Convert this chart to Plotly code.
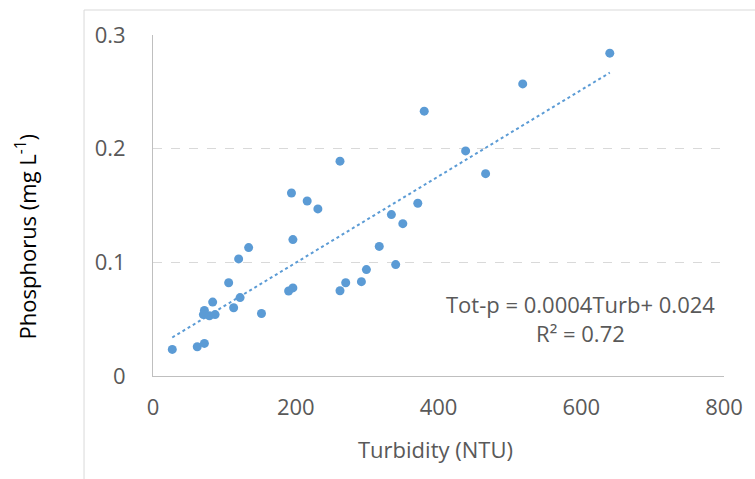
import numpy as np
import plotly.graph_objects as go

turbidity = [27, 62, 72, 72, 70.6, 79, 87, 83.6, 106, 113, 122, 120, 134, 152,
             194, 216, 231, 196, 190, 196, 262, 262, 334, 350, 371, 317, 340,
             299, 292, 270, 640, 518, 380, 438, 466]
phosphorus = [0.0234, 0.0257, 0.0287, 0.0577, 0.054, 0.053, 0.054, 0.065, 0.082,
              0.060, 0.069, 0.103, 0.113, 0.055, 0.161, 0.154, 0.147, 0.120,
              0.0748, 0.0775, 0.189, 0.075, 0.142, 0.134, 0.152, 0.114, 0.098,
              0.0936, 0.083, 0.082, 0.284, 0.257, 0.233, 0.198, 0.178]
x_ticks = [0, 200, 400, 600, 800]
y_ticks = [0, 0.1, 0.2, 0.3]
y_tick_labels = ["0", "0.1", "0.2", "0.3"]
equation_text = "Tot-p = 0.0004Turb+ 0.024<br>R² = 0.72"

slope, intercept = np.polyfit(turbidity, phosphorus, 1)
trend_x = [min(turbidity), max(turbidity)]
trend_y = [slope * v + intercept for v in trend_x]

color = "#5b9bd5"
font_color = "#595959"
font_family = "Open Sans"

fig = go.Figure()
fig.add_trace(go.Scatter(x=trend_x, y=trend_y, mode="lines",
                         line=dict(color=color, width=2, dash="dot"),
                         hoverinfo="skip", showlegend=False))
fig.add_trace(go.Scatter(x=turbidity, y=phosphorus, mode="markers",
                         marker=dict(color=color, size=9), showlegend=False))

fig.update_layout(
    width=755, height=479,
    margin=dict(l=152.5, r=27, t=35, b=103),
    paper_bgcolor="white", plot_bgcolor="white",
    font=dict(family=font_family, color=font_color, size=22),
    xaxis=dict(range=[0, 800], tickvals=x_ticks, showgrid=False, zeroline=False,
               showline=True, linecolor="#bfbfbf", linewidth=1,
               ticks="", ticklabelstandoff=12,
               tickfont=dict(size=22, color=font_color)),
    yaxis=dict(range=[0, 0.3], tickvals=y_ticks, ticktext=y_tick_labels,
               showgrid=True, gridcolor="#d9d9d9", griddash="dash", gridwidth=1,
               zeroline=False, showline=True, linecolor="#bfbfbf", linewidth=1,
               ticks="", ticklabelstandoff=22,
               tickfont=dict(size=22, color=font_color)),
    annotations=[
        dict(text="Turbidity (NTU)", xref="paper", yref="paper",
             x=(437 - 152.5) / 575.5, y=(376 - 449) / 341,
             showarrow=False, xanchor="center", yanchor="middle",
             font=dict(size=22, color=font_color)),
        dict(text="Phosphorus (mg L<sup>-1</sup>)", xref="paper", yref="paper",
             x=(25 - 152.5) / 575.5, y=(376 - 236) / 341, textangle=-90,
             showarrow=False, xanchor="center", yanchor="middle",
             font=dict(size=22, color="#000000")),
        dict(text=equation_text, xref="paper", yref="paper",
             x=(583 - 152.5) / 575.5, y=(376 - 318) / 341,
             showarrow=False, xanchor="center", yanchor="middle", align="center",
             font=dict(size=22, color=font_color)),
    ],
    shapes=[
        dict(type="line", xref="paper", yref="paper",
             x0=(83 - 152.5) / 575.5, x1=(83 - 152.5) / 575.5,
             y0=-0.5, y1=(376 - 10) / 341,
             line=dict(color="#d9d9d9", width=1)),
        dict(type="line", xref="paper", yref="paper",
             x0=(83 - 152.5) / 575.5, x1=1.5,
             y0=(376 - 10) / 341, y1=(376 - 10) / 341,
             line=dict(color="#d9d9d9", width=1)),
    ],
)

fig.write_html("out.html")
